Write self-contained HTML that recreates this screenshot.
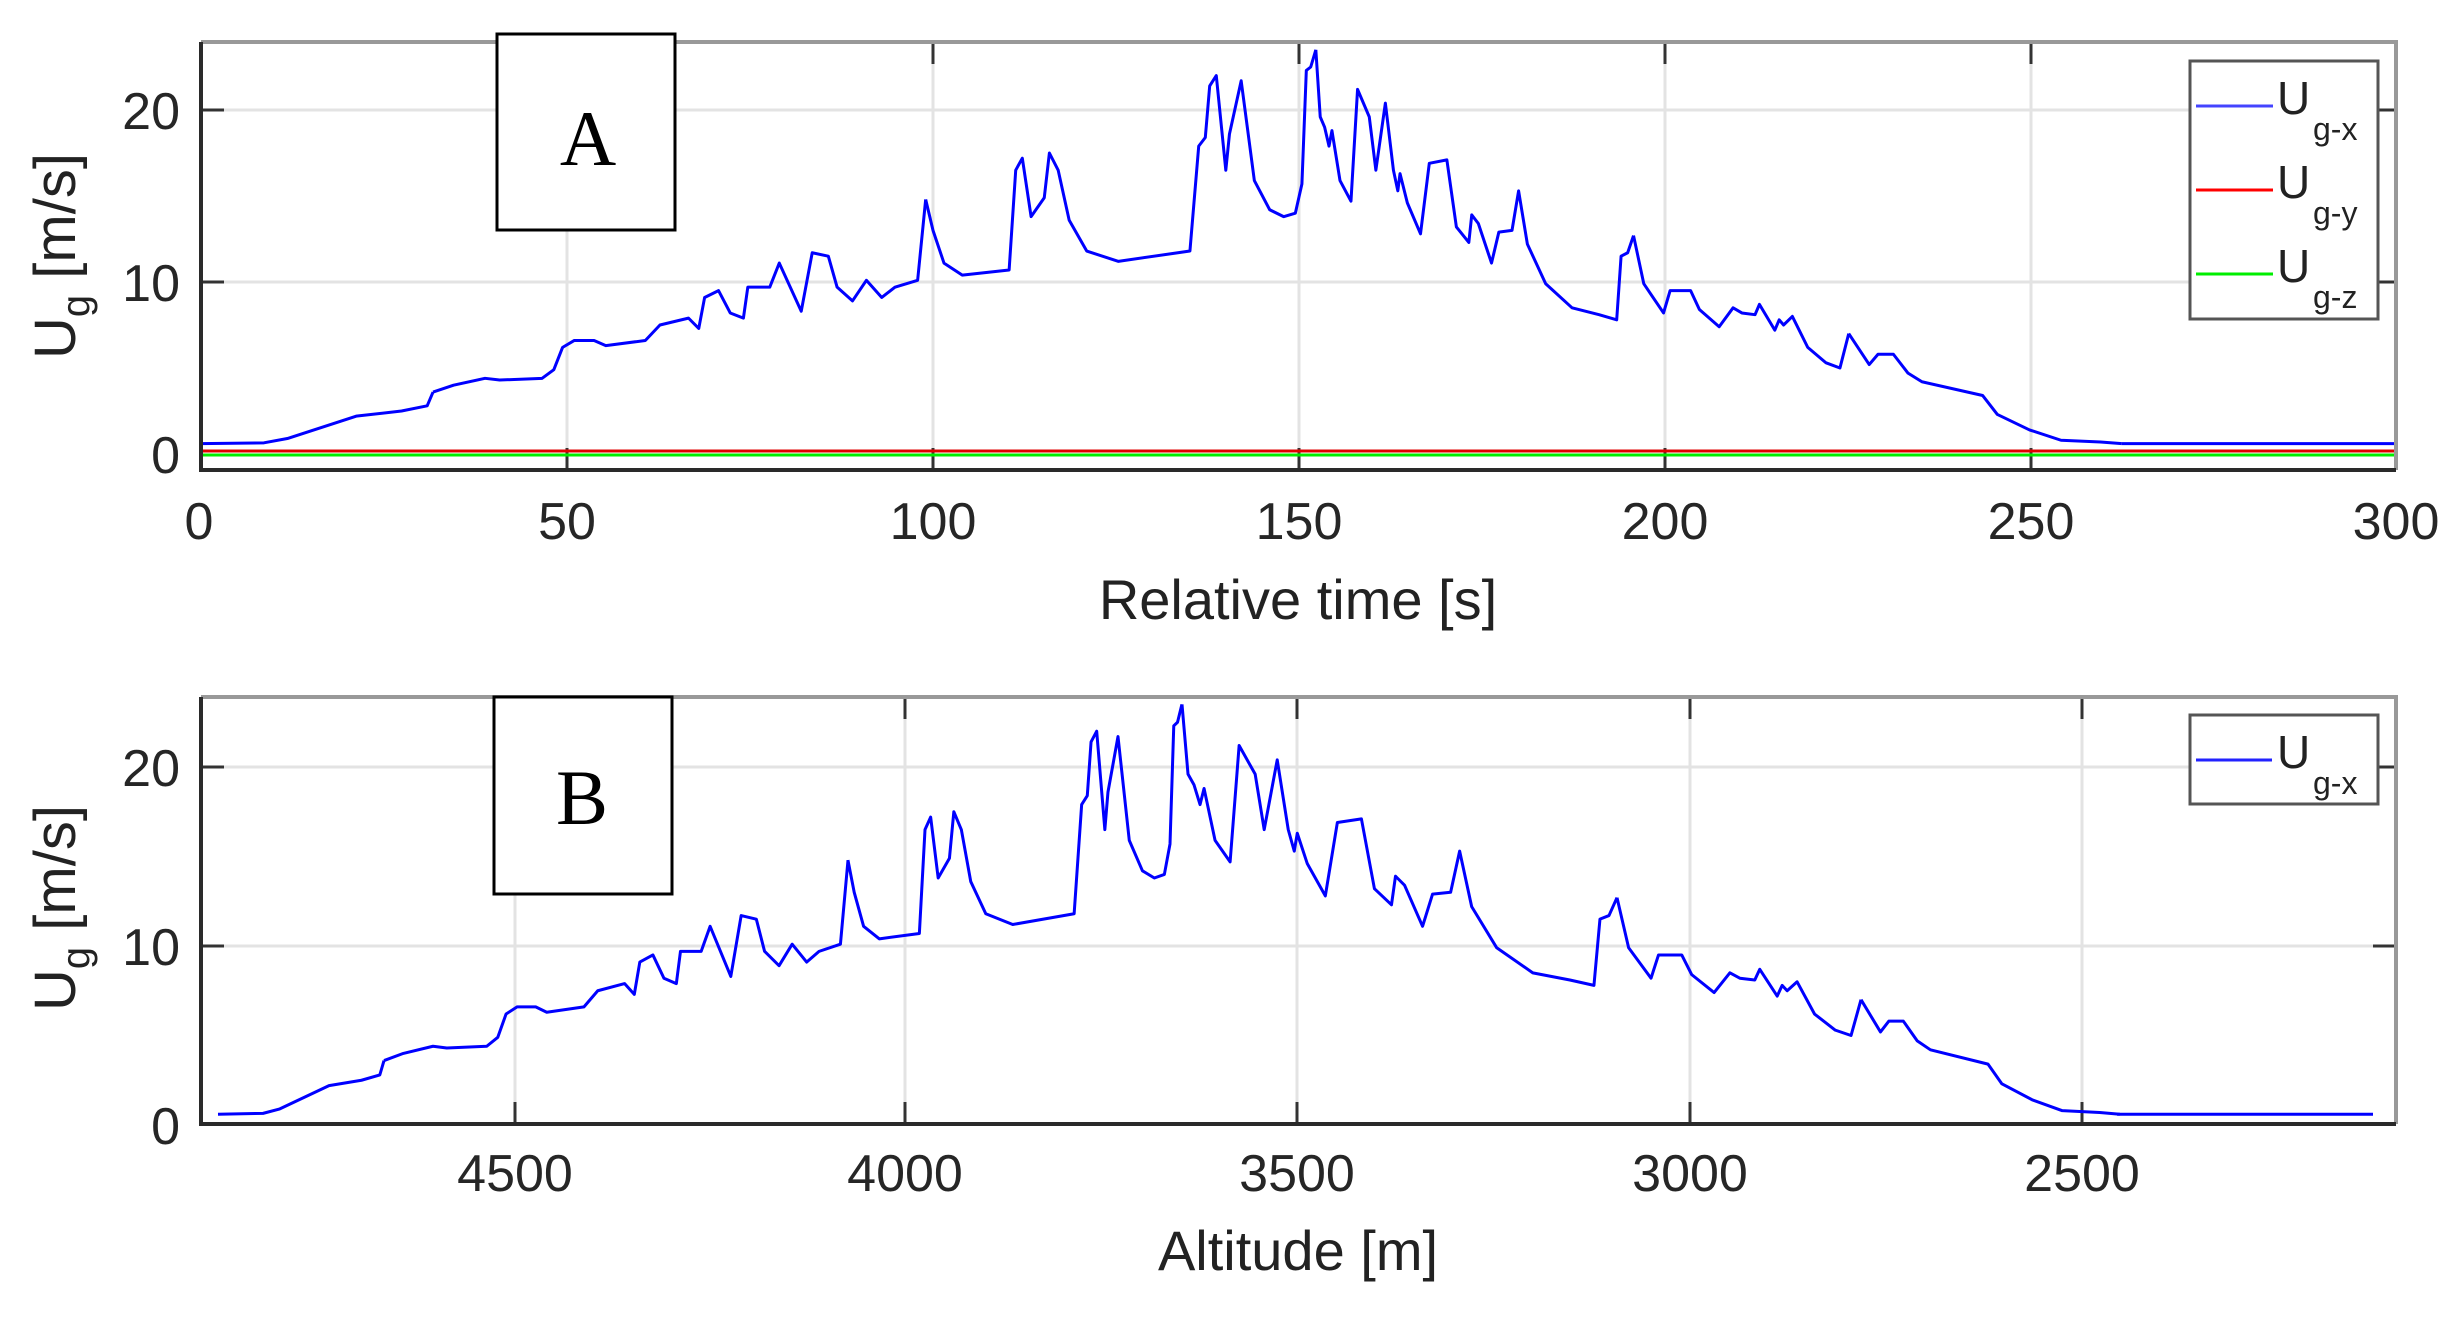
<!DOCTYPE html>
<html><head><meta charset="utf-8"><style>
html,body{margin:0;padding:0;background:#fff;}
svg{display:block;}
text{font-family:"Liberation Sans",Arial,sans-serif;}
</style></head><body>
<svg width="2459" height="1317" viewBox="0 0 2459 1317" xmlns="http://www.w3.org/2000/svg">
<rect width="2459" height="1317" fill="#fff"/>
<defs>
<polyline id="d1" vector-effect="non-scaling-stroke" points="0,0.6 8.6,0.65 11.8,0.9 21.2,2.2 27.4,2.5 30.9,2.8 31.7,3.6"/>
<polyline id="d2" vector-effect="non-scaling-stroke" points="31.7,3.6 34.5,4.0 38.8,4.4 40.8,4.3 46.6,4.4 48.2,4.9 49.4,6.2 51,6.6 53.7,6.6 55.3,6.3 60.7,6.6 62.7,7.5 66.6,7.9 68,7.3 68.8,9.1 70.7,9.5 72.3,8.2 74.1,7.9 74.7,9.7 77.7,9.7 79,11.1 82,8.3 83.5,11.7 85.7,11.5 86.9,9.7 89,8.9 90.9,10.1 93,9.1 94.8,9.7 97.9,10.1 99,14.8"/>
<polyline id="d3" vector-effect="non-scaling-stroke" points="99,14.8 100,13.0 101.5,11.1 104,10.4 110.4,10.7 111.3,16.5 112.2,17.2 113.4,13.8 115.2,14.9 115.9,17.5 117.1,16.5 118.6,13.6 121,11.8 125.3,11.2 135.1,11.8 136.3,17.9 137.2,18.4 137.8,21.4 138.7,22.0 140,16.5 140.5,18.6 142.1,21.7 143.9,15.9 146,14.2 147.9,13.8 149.5,14.0 150.4,15.7 151,22.3 151.6,22.5 152.3,23.5"/>
<polyline id="d4" vector-effect="non-scaling-stroke" points="152.3,23.5 152.9,19.6 153.5,19.0 154.1,17.9 154.5,18.8 155.6,15.9 157.1,14.7 158,21.2 159.6,19.6 160.5,16.5 161.8,20.4 162.9,16.5 163.5,15.3 163.8,16.3 164.8,14.6 166.6,12.8 167.8,16.9 170.2,17.1 171.5,13.2 173.2,12.3 173.6,13.9 174.5,13.4 176.3,11.1 177.3,12.9 179.1,13.0 180,15.3 181.2,12.2 183.7,9.9 187.3,8.5 191,8.1 193.4,7.8 194,11.5 194.9,11.7 195.7,12.7"/>
<polyline id="d5" vector-effect="non-scaling-stroke" points="195.7,12.7 197.1,9.9 199.8,8.2 200.7,9.5 203.5,9.5 204.7,8.4 207.4,7.4 209.3,8.5 210.5,8.2 212.3,8.1 212.9,8.7 215,7.2 215.6,7.8 216.2,7.5 217.4,8.0 219.5,6.2 222,5.3 223.9,5.0 225.1,7.0"/>
<polyline id="d6" vector-effect="non-scaling-stroke" points="225.1,7.0 227.9,5.2 229.1,5.8 231.2,5.8 233.2,4.7 235.1,4.2 243.4,3.4 245.4,2.3 249.8,1.4 254.1,0.8 259.5,0.7 262.4,0.6"/>
<polyline id="d7" vector-effect="non-scaling-stroke" points="262.4,0.6 300,0.6"/>
</defs>

<!-- ===== Panel A ===== -->
<g stroke="#e3e3e3" stroke-width="3">
<line x1="567" y1="42" x2="567" y2="470"/><line x1="933" y1="42" x2="933" y2="470"/>
<line x1="1299" y1="42" x2="1299" y2="470"/><line x1="1665" y1="42" x2="1665" y2="470"/>
<line x1="2031" y1="42" x2="2031" y2="470"/>
<line x1="201" y1="110" x2="2396" y2="110"/><line x1="201" y1="282" x2="2396" y2="282"/>
</g>
<g stroke="#333" stroke-width="3">
<line x1="567" y1="470" x2="567" y2="448"/><line x1="933" y1="470" x2="933" y2="448"/>
<line x1="1299" y1="470" x2="1299" y2="448"/><line x1="1665" y1="470" x2="1665" y2="448"/>
<line x1="2031" y1="470" x2="2031" y2="448"/>
<line x1="567" y1="42" x2="567" y2="64"/><line x1="933" y1="42" x2="933" y2="64"/>
<line x1="1299" y1="42" x2="1299" y2="64"/><line x1="1665" y1="42" x2="1665" y2="64"/>
<line x1="2031" y1="42" x2="2031" y2="64"/>
<line x1="201" y1="110" x2="224" y2="110"/><line x1="201" y1="282" x2="224" y2="282"/>
<line x1="2396" y1="110" x2="2373" y2="110"/><line x1="2396" y1="282" x2="2373" y2="282"/>
</g>
<line x1="201" y1="451" x2="2396" y2="451" stroke="#e00000" stroke-width="3"/>
<line x1="201" y1="455" x2="2396" y2="455" stroke="#00ee00" stroke-width="3"/>
<g transform="translate(201,454) scale(7.32,-17.2)" fill="none" stroke="#0000ff" stroke-width="3" stroke-linejoin="round">
<use href="#d1"/><use href="#d2"/><use href="#d3"/><use href="#d4"/><use href="#d5"/><use href="#d6"/><use href="#d7"/>
</g>
<path d="M201,42 H2396 V470" fill="none" stroke="#999" stroke-width="4"/>
<path d="M201,42 V470 H2396" fill="none" stroke="#2a2a2a" stroke-width="4"/>
<rect x="497" y="34" width="178" height="196" fill="#fff" stroke="#000" stroke-width="3"/>
<text x="588" y="165" font-size="78" text-anchor="middle" style="font-family:'Liberation Serif',serif">A</text>
<rect x="2190" y="61" width="188" height="258" fill="#fff" stroke="#555" stroke-width="3"/>
<g stroke-width="3"><line x1="2196" y1="106" x2="2273" y2="106" stroke="#4444ff"/>
<line x1="2196" y1="190" x2="2273" y2="190" stroke="#ff0000"/>
<line x1="2196" y1="274" x2="2273" y2="274" stroke="#00ee00"/></g>
<g fill="#222" font-size="46"><text x="2277" y="114">U</text><text x="2277" y="198">U</text><text x="2277" y="282">U</text></g>
<g fill="#222" font-size="32"><text x="2313" y="140">g-x</text><text x="2313" y="224">g-y</text><text x="2313" y="308">g-z</text></g>
<g fill="#262626" font-size="52" text-anchor="middle">
<text x="199" y="539">0</text><text x="567" y="539">50</text><text x="933" y="539">100</text>
<text x="1299" y="539">150</text><text x="1665" y="539">200</text><text x="2031" y="539">250</text><text x="2396" y="539">300</text>
</g>
<g fill="#262626" font-size="52" text-anchor="end">
<text x="180" y="129">20</text><text x="180" y="301">10</text><text x="180" y="473">0</text>
</g>
<text x="1298" y="619" fill="#222" font-size="56" text-anchor="middle">Relative time [s]</text>
<text transform="translate(75,256) rotate(-90)" fill="#222" font-size="58" text-anchor="middle">U<tspan font-size="40" dy="14">g</tspan><tspan dy="-14"> [m/s]</tspan></text>

<!-- ===== Panel B ===== -->
<g stroke="#e3e3e3" stroke-width="3">
<line x1="515" y1="697" x2="515" y2="1124"/><line x1="905" y1="697" x2="905" y2="1124"/>
<line x1="1297" y1="697" x2="1297" y2="1124"/><line x1="1690" y1="697" x2="1690" y2="1124"/>
<line x1="2082" y1="697" x2="2082" y2="1124"/>
<line x1="201" y1="767" x2="2396" y2="767"/><line x1="201" y1="946" x2="2396" y2="946"/>
</g>
<g stroke="#333" stroke-width="3">
<line x1="515" y1="1124" x2="515" y2="1102"/><line x1="905" y1="1124" x2="905" y2="1102"/>
<line x1="1297" y1="1124" x2="1297" y2="1102"/><line x1="1690" y1="1124" x2="1690" y2="1102"/>
<line x1="2082" y1="1124" x2="2082" y2="1102"/>
<line x1="515" y1="697" x2="515" y2="719"/><line x1="905" y1="697" x2="905" y2="719"/>
<line x1="1297" y1="697" x2="1297" y2="719"/><line x1="1690" y1="697" x2="1690" y2="719"/>
<line x1="2082" y1="697" x2="2082" y2="719"/>
<line x1="201" y1="767" x2="224" y2="767"/><line x1="201" y1="946" x2="224" y2="946"/>
<line x1="2396" y1="767" x2="2373" y2="767"/><line x1="2396" y1="946" x2="2373" y2="946"/>
</g>
<g fill="none" stroke="#0000ff" stroke-width="3" stroke-linejoin="round">
<g transform="translate(0,1125) scale(1,-17.9)">
<g transform="translate(218,0) scale(5.237,1)"><use href="#d1"/></g>
<g transform="translate(165.5,0) scale(6.894,1)"><use href="#d2"/></g>
<g transform="translate(227.6,0) scale(6.266,1)"><use href="#d3"/></g>
<g transform="translate(-344.5,0) scale(10.023,1)"><use href="#d4"/></g>
<g transform="translate(-7.1,0) scale(8.299,1)"><use href="#d5"/></g>
<g transform="translate(299.3,0) scale(6.938,1)"><use href="#d6"/></g>
<g transform="translate(2117,0)"><line x1="0" y1="0.6" x2="256" y2="0.6" vector-effect="non-scaling-stroke"/></g>
</g>
</g>
<path d="M201,697 H2396 V1124" fill="none" stroke="#999" stroke-width="4"/>
<path d="M201,697 V1124 H2396" fill="none" stroke="#2a2a2a" stroke-width="4"/>
<rect x="494" y="697" width="178" height="197" fill="#fff" stroke="#000" stroke-width="3"/>
<text x="582" y="824" font-size="78" text-anchor="middle" style="font-family:'Liberation Serif',serif">B</text>
<rect x="2190" y="715" width="188" height="89" fill="#fff" stroke="#555" stroke-width="3"/>
<line x1="2196" y1="760" x2="2272" y2="760" stroke="#2222ff" stroke-width="3"/>
<text x="2277" y="768" fill="#222" font-size="46">U</text>
<text x="2313" y="794" fill="#222" font-size="32">g-x</text>
<g fill="#262626" font-size="52" text-anchor="middle">
<text x="515" y="1191">4500</text><text x="905" y="1191">4000</text><text x="1297" y="1191">3500</text>
<text x="1690" y="1191">3000</text><text x="2082" y="1191">2500</text>
</g>
<g fill="#262626" font-size="52" text-anchor="end">
<text x="180" y="786">20</text><text x="180" y="965">10</text><text x="180" y="1144">0</text>
</g>
<text x="1298" y="1270" fill="#222" font-size="56" text-anchor="middle">Altitude [m]</text>
<text transform="translate(75,908) rotate(-90)" fill="#222" font-size="58" text-anchor="middle">U<tspan font-size="40" dy="14">g</tspan><tspan dy="-14"> [m/s]</tspan></text>
</svg>
</body></html>
